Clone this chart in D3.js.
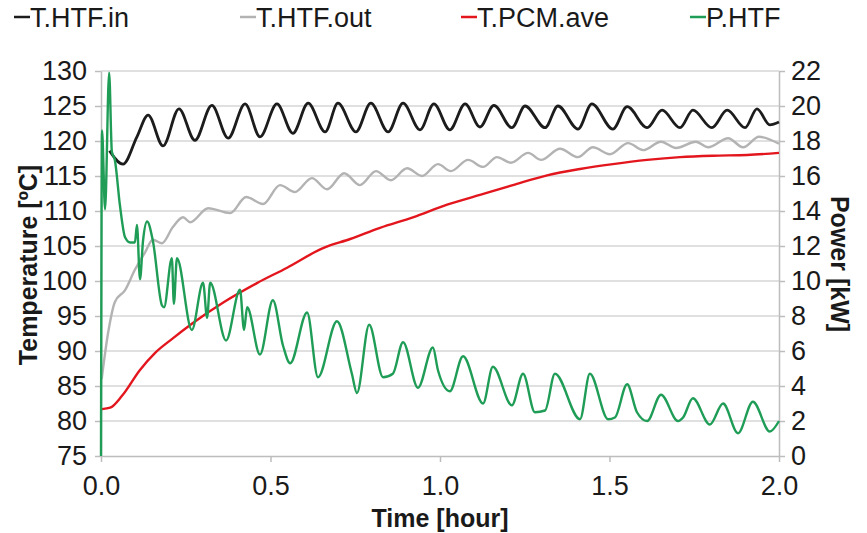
<!DOCTYPE html>
<html>
<head>
<meta charset="utf-8">
<script src="https://cdn.jsdelivr.net/npm/d3@7"></script>
<style>
  body { margin: 0; background: #fff; }
  text { font-family: "Liberation Sans", Arial, sans-serif; fill: #1a1a1a; }
</style>
</head>
<body>
<script>

// values (time in hours)
let timeIn = [0.025, 0.065, 0.106, 0.139, 0.183, 0.230, 0.277, 0.327, 0.375, 0.425, 0.469, 0.519, 0.566, 0.611, 0.661, 0.699, 0.752, 0.796, 0.847, 0.891, 0.941, 0.982, 1.029, 1.074, 1.118, 1.159, 1.212, 1.251, 1.310, 1.348, 1.407, 1.448, 1.510, 1.552, 1.611, 1.655, 1.708, 1.746, 1.802, 1.847, 1.900, 1.935, 1.973, 2.0]
let tempIn = [118.6, 116.7, 120.6, 123.7, 119.3, 124.6, 120.1, 125.1, 120.4, 125.3, 120.6, 125.3, 121.1, 125.4, 121.3, 125.4, 121.3, 125.4, 121.3, 125.4, 121.6, 125.3, 121.6, 125.3, 122.0, 125.1, 121.9, 125.0, 121.9, 125.0, 121.7, 125.3, 121.7, 124.9, 121.9, 124.4, 121.9, 124.4, 121.9, 124.4, 121.9, 124.6, 122.3, 122.7]

let timeOut = [0.002, 0.021, 0.041, 0.071, 0.100, 0.130, 0.153, 0.180, 0.212, 0.242, 0.263, 0.316, 0.381, 0.428, 0.478, 0.528, 0.572, 0.622, 0.667, 0.717, 0.764, 0.811, 0.855, 0.903, 0.947, 0.994, 1.032, 1.083, 1.127, 1.168, 1.209, 1.260, 1.298, 1.354, 1.407, 1.451, 1.501, 1.555, 1.599, 1.652, 1.696, 1.755, 1.791, 1.850, 1.894, 1.941, 2.0]
let tempOut = [86.0, 92.6, 97.0, 98.7, 101.6, 104.1, 105.9, 105.4, 107.7, 109.1, 108.4, 110.4, 109.7, 112.0, 111.0, 113.7, 112.7, 114.7, 113.1, 115.4, 113.7, 115.7, 114.4, 116.1, 115.0, 116.7, 115.7, 117.3, 116.3, 117.7, 116.9, 118.3, 117.3, 118.9, 117.7, 119.1, 118.1, 119.7, 118.7, 119.9, 119.0, 119.9, 119.1, 120.4, 119.1, 120.6, 119.6]

let timePcm = [0.003, 0.027, 0.062, 0.115, 0.159, 0.209, 0.268, 0.363, 0.460, 0.549, 0.655, 0.735, 0.823, 0.920, 1.021, 1.118, 1.215, 1.316, 1.413, 1.510, 1.611, 1.708, 1.805, 1.906, 2.0]
let tempPcm = [81.7, 81.9, 83.6, 87.3, 89.7, 91.7, 93.9, 97.0, 99.7, 101.9, 104.7, 106.0, 107.6, 109.1, 110.9, 112.3, 113.7, 115.1, 116.0, 116.7, 117.3, 117.7, 117.9, 118.0, 118.3]

let timeP = [0, 0.003, 0.012, 0.024, 0.032, 0.041, 0.056, 0.071, 0.086, 0.100, 0.106, 0.115, 0.124, 0.136, 0.153, 0.180, 0.186, 0.209, 0.215, 0.224, 0.268, 0.301, 0.313, 0.322, 0.369, 0.410, 0.422, 0.431, 0.469, 0.507, 0.537, 0.558, 0.608, 0.640, 0.696, 0.740, 0.755, 0.791, 0.832, 0.861, 0.891, 0.935, 0.979, 0.994, 1.029, 1.068, 1.127, 1.156, 1.212, 1.245, 1.280, 1.310, 1.339, 1.413, 1.442, 1.496, 1.516, 1.552, 1.581, 1.611, 1.652, 1.702, 1.717, 1.746, 1.796, 1.835, 1.879, 1.923, 1.973, 2.0]
let powerP = [0, 18.6, 14.1, 21.9, 17.4, 16.9, 14.3, 12.5, 12.2, 12.2, 13.2, 10.1, 12.3, 13.4, 12.3, 8.6, 8.5, 11.3, 8.7, 11.3, 7.2, 9.9, 7.9, 9.9, 6.6, 9.5, 7.2, 8.5, 5.8, 8.9, 6.3, 5.3, 8.2, 4.5, 7.7, 4.7, 3.6, 7.5, 4.5, 4.7, 6.5, 3.9, 6.2, 4.9, 3.7, 5.7, 3.0, 5.1, 2.9, 4.7, 2.5, 2.6, 4.7, 2.1, 4.7, 2.1, 2.2, 4.1, 2.5, 2.0, 3.5, 2.0, 2.2, 3.3, 1.8, 3.0, 1.3, 3.1, 1.4, 2.0]

let tempTicks = [75, 80, 85, 90, 95, 100, 105, 110, 115, 120, 125, 130]
let powerTicks = [0, 2, 4, 6, 8, 10, 12, 14, 16, 18, 20, 22]
let timeTicks = [0, 0.5, 1.0, 1.5, 2.0]
let seriesNames = ["T.HTF.in", "T.HTF.out", "T.PCM.ave", "P.HTF"]

let margin = {top: 71, right: 88, bottom: 77, left: 101};
let width = 867 - margin.left - margin.right;
let height = 533 - margin.top - margin.bottom;

let svg = d3.select("body").append("svg")
    .attr("width", 867)
    .attr("height", 533)

let chart = svg.append("g")
    .attr("transform", `translate(${margin.left}, ${margin.top})`)

let x = d3.scaleLinear().domain([0, 2]).range([0, width]);
let yT = d3.scaleLinear().domain([75, 130]).range([height, 0]);
let yP = d3.scaleLinear().domain([0, 22]).range([height, 0]);

let color = d3.scaleOrdinal()
    .domain(seriesNames)
    .range(["#1c1c1c", "#b3b3b3", "#e3161e", "#1f9d57"]);

// gridlines
chart.selectAll(".grid")
    .data(tempTicks.slice(1))
    .join("line")
    .attr("x1", 0)
    .attr("x2", width)
    .attr("y1", d => yT(d))
    .attr("y2", d => yT(d))
    .style("stroke", "#d6d6d6")
    .style("stroke-width", "1.5px")

let styleAxis = function(g) {
    g.selectAll("path, line").style("stroke", "#bdbdbd").style("stroke-width", "1.5px")
    g.selectAll("text").style("font-size", "27px").style("fill", "#1a1a1a")
        .style("font-family", "'Liberation Sans', Arial, sans-serif")
}

chart.append("g")
    .call(d3.axisLeft(yT).tickValues(tempTicks).tickSize(6).tickSizeOuter(0).tickPadding(8))
    .call(styleAxis)

chart.append("g")
    .attr("transform", `translate(${width}, 0)`)
    .call(d3.axisRight(yP).tickValues(powerTicks).tickSize(6).tickSizeOuter(0).tickPadding(6))
    .call(styleAxis)

chart.append("g")
    .attr("transform", `translate(0, ${height})`)
    .call(d3.axisBottom(x).tickValues(timeTicks).tickFormat(d3.format(".1f")).tickSize(6).tickSizeOuter(0).tickPadding(14))
    .call(styleAxis)

// series
let tempLine = d3.line()
    .x(d => x(d[0]))
    .y(d => yT(d[1]))
    .curve(d3.curveMonotoneX)

let powerLine = d3.line()
    .x(d => x(d[0]))
    .y(d => yP(d[1]))
    .curve(d3.curveMonotoneX)

let series = [
    {name: "T.HTF.in", pts: d3.zip(timeIn, tempIn), line: tempLine, w: 2.8},
    {name: "T.HTF.out", pts: d3.zip(timeOut, tempOut), line: tempLine, w: 2.4},
    {name: "T.PCM.ave", pts: d3.zip(timePcm, tempPcm), line: tempLine, w: 2.4},
    {name: "P.HTF", pts: d3.zip(timeP, powerP), line: powerLine, w: 2.4}
]

chart.selectAll(".series")
    .data(series)
    .join("path")
    .attr("fill", "none")
    .attr("stroke", d => color(d.name))
    .attr("stroke-width", d => d.w)
    .attr("stroke-linejoin", "round")
    .attr("d", d => d.line(d.pts))

// axis titles
svg.append("text")
    .attr("transform", "translate(37, 265) rotate(-90)")
    .attr("text-anchor", "middle")
    .style("font-size", "25px")
    .style("font-weight", "bold")
    .text("Temperature [ºC]")

svg.append("text")
    .attr("transform", "translate(831, 264) rotate(90)")
    .attr("text-anchor", "middle")
    .style("font-size", "25px")
    .style("font-weight", "bold")
    .text("Power [kW]")

svg.append("text")
    .attr("x", 440)
    .attr("y", 527)
    .attr("text-anchor", "middle")
    .style("font-size", "25px")
    .style("font-weight", "bold")
    .text("Time [hour]")

// legend
let legendX = [14, 240, 461, 690]

let legend = svg.selectAll(".legend")
    .data(seriesNames)
    .join("g")
    .attr("transform", (d, i) => `translate(${legendX[i]}, 17)`)

legend.append("line")
    .attr("x1", 0)
    .attr("x2", 16)
    .style("stroke", d => color(d))
    .style("stroke-width", "2.5px")

legend.append("text")
    .attr("x", 16)
    .attr("y", 10)
    .style("font-size", "27px")
    .text(d => d)

</script>
</body>
</html>
